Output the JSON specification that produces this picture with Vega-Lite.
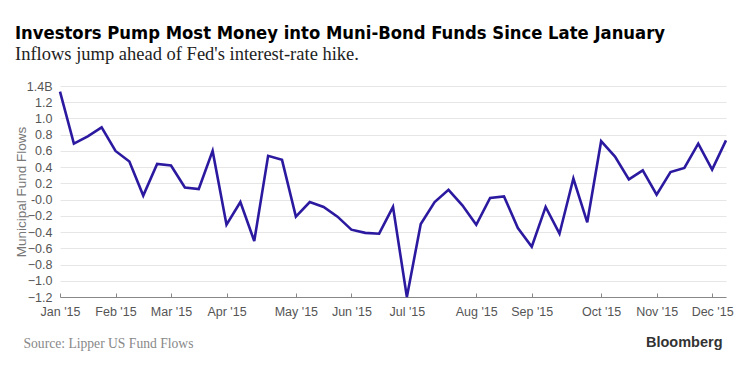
{
  "$schema": "https://vega.github.io/schema/vega-lite/v6.json",
  "width": 666,
  "height": 211,
  "autosize": {"type": "none"},
  "padding": {"left": 60, "top": 86, "right": 24, "bottom": 76},
  "background": "white",
  "title": {
    "text": "Investors Pump Most Money into Muni-Bond Funds Since Late January",
    "subtitle": "Inflows jump ahead of Fed's interest-rate hike.",
    "anchor": "start",
    "frame": "group",
    "dx": -45,
    "offset": 16,
    "font": "DejaVu Sans Condensed, sans-serif",
    "fontSize": 18.3,
    "fontWeight": "bold",
    "color": "#000000",
    "subtitleFont": "Liberation Serif, serif",
    "subtitleFontSize": 18.5,
    "subtitleColor": "#222222",
    "subtitlePadding": 1
  },
  "config": {
    "view": {"stroke": null},
    "axis": {"labelFont": "Liberation Sans, sans-serif", "titleFont": "Liberation Sans, sans-serif"}
  },
  "data": {
    "values": [
      {"date": "2015-01-07", "flow": 1.33},
      {"date": "2015-01-14", "flow": 0.69},
      {"date": "2015-01-21", "flow": 0.78},
      {"date": "2015-01-28", "flow": 0.89},
      {"date": "2015-02-04", "flow": 0.6},
      {"date": "2015-02-11", "flow": 0.47},
      {"date": "2015-02-18", "flow": 0.05},
      {"date": "2015-02-25", "flow": 0.44},
      {"date": "2015-03-04", "flow": 0.42},
      {"date": "2015-03-11", "flow": 0.15},
      {"date": "2015-03-18", "flow": 0.13},
      {"date": "2015-03-25", "flow": 0.6},
      {"date": "2015-04-01", "flow": -0.31},
      {"date": "2015-04-08", "flow": -0.03},
      {"date": "2015-04-15", "flow": -0.51},
      {"date": "2015-04-22", "flow": 0.54},
      {"date": "2015-04-29", "flow": 0.49},
      {"date": "2015-05-06", "flow": -0.21},
      {"date": "2015-05-13", "flow": -0.03},
      {"date": "2015-05-20", "flow": -0.09},
      {"date": "2015-05-27", "flow": -0.21},
      {"date": "2015-06-03", "flow": -0.37},
      {"date": "2015-06-10", "flow": -0.41},
      {"date": "2015-06-17", "flow": -0.42},
      {"date": "2015-06-24", "flow": -0.09},
      {"date": "2015-07-01", "flow": -1.2},
      {"date": "2015-07-08", "flow": -0.3},
      {"date": "2015-07-15", "flow": -0.03},
      {"date": "2015-07-22", "flow": 0.12},
      {"date": "2015-07-29", "flow": -0.07},
      {"date": "2015-08-05", "flow": -0.31},
      {"date": "2015-08-12", "flow": 0.02},
      {"date": "2015-08-19", "flow": 0.04},
      {"date": "2015-08-26", "flow": -0.35},
      {"date": "2015-09-02", "flow": -0.58},
      {"date": "2015-09-09", "flow": -0.09},
      {"date": "2015-09-16", "flow": -0.42},
      {"date": "2015-09-23", "flow": 0.26},
      {"date": "2015-09-30", "flow": -0.28},
      {"date": "2015-10-07", "flow": 0.72},
      {"date": "2015-10-14", "flow": 0.53},
      {"date": "2015-10-21", "flow": 0.25},
      {"date": "2015-10-28", "flow": 0.36},
      {"date": "2015-11-04", "flow": 0.06},
      {"date": "2015-11-11", "flow": 0.34},
      {"date": "2015-11-18", "flow": 0.39},
      {"date": "2015-11-25", "flow": 0.69},
      {"date": "2015-12-02", "flow": 0.37},
      {"date": "2015-12-09", "flow": 0.73}
    ]
  },
  "resolve": {"axis": {"x": "independent"}},
  "encoding": {
    "y": {
      "field": "flow",
      "type": "quantitative",
      "scale": {"domain": [-1.2, 1.4], "nice": false, "zero": false},
      "axis": {
        "values": [-1.2, -1.0, -0.8, -0.6, -0.4, -0.2, 0, 0.2, 0.4, 0.6, 0.8, 1.0, 1.2, 1.4],
        "labelExpr": "datum.value == 1.4 ? '1.4B' : (datum.value == 0 ? '-0.0' : format(datum.value, '.1f'))",
        "labelOverlap": false,
        "domain": false,
        "ticks": false,
        "grid": true,
        "gridColor": "#e6e6e6",
        "gridWidth": 1,
        "labelColor": "#555555",
        "labelFontSize": 12.5,
        "labelPadding": 8,
        "title": "Municipal Fund Flows",
        "titleFontWeight": "normal",
        "titleFontSize": 13.5,
        "titleColor": "#777777",
        "titlePadding": -2
      }
    }
  },
  "layer": [
    {
      "mark": {"type": "line", "color": "#2b1aa0", "strokeWidth": 2.6, "clip": false},
      "encoding": {
        "x": {
          "field": "date",
          "type": "temporal",
          "scale": {"domain": ["2015-01-07", "2015-12-09"], "nice": false},
          "axis": {
            "orient": "bottom",
            "values": ["2015-01-07", "2015-02-04", "2015-03-04", "2015-04-01", "2015-05-06", "2015-06-03", "2015-07-01", "2015-08-05", "2015-09-02", "2015-10-07", "2015-11-04", "2015-12-02"],
            "format": "%b '%y",
            "grid": false,
            "domainColor": "#888888",
            "domainWidth": 1,
            "tickColor": "#888888",
            "tickSize": -4,
            "labelColor": "#555555",
            "labelFontSize": 12.5,
            "labelPadding": 12,
            "labelFlush": false,
            "labelOverlap": false,
            "title": "Source: Lipper US Fund Flows",
            "titleFont": "Liberation Serif, serif",
            "titleFontWeight": "normal",
            "titleFontSize": 13.6,
            "titleColor": "#888888",
            "titleAnchor": "start",
            "titleAlign": "left",
            "titleBaseline": "middle",
            "titleX": -37,
            "titleY": 46
          }
        }
      }
    },
    {
      "mark": {"type": "line", "opacity": 0},
      "encoding": {
        "x": {
          "field": "date",
          "type": "temporal",
          "axis": {
            "orient": "bottom",
            "domain": false,
            "ticks": false,
            "labels": false,
            "grid": false,
            "title": "Bloomberg",
            "titleFont": "Liberation Sans, sans-serif",
            "titleFontWeight": "bold",
            "titleFontSize": 14.5,
            "titleColor": "#333333",
            "titleAnchor": "end",
            "titleAlign": "right",
            "titleBaseline": "middle",
            "titleX": 662,
            "titleY": 45
          }
        }
      }
    }
  ]
}
